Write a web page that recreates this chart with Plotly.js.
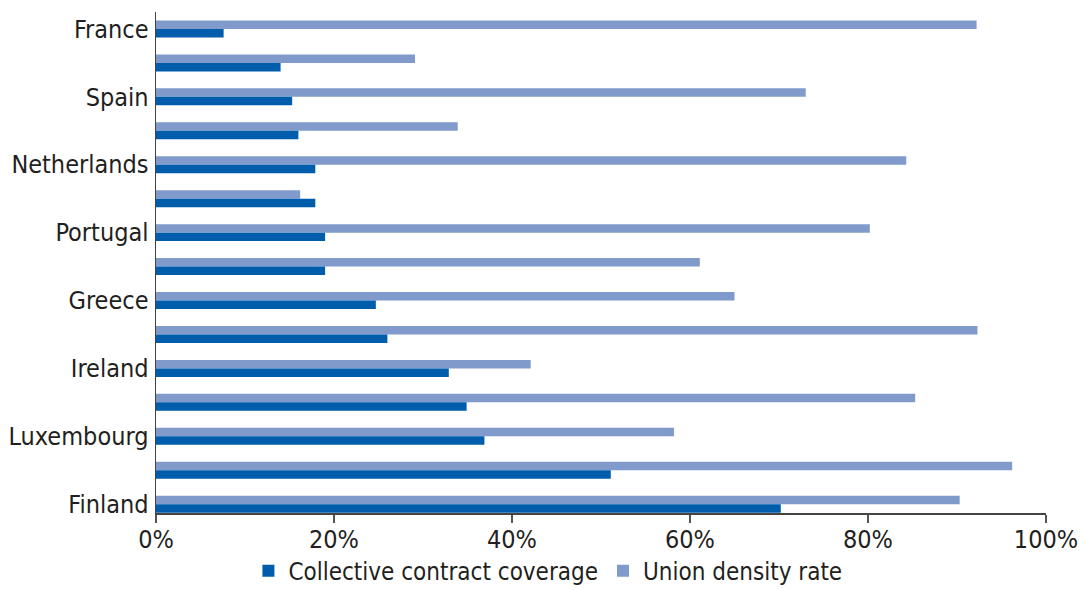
<!DOCTYPE html>
<html>
<head>
<meta charset="utf-8">
<script src="https://cdn.plot.ly/plotly-3.0.1.min.js"></script>
<style>html,body{margin:0;padding:0;background:#fff;}#chart{width:1085px;height:590px;}</style>
</head>
<body>
<div id="chart"></div>
<script>
// Categories, top to bottom (unlabelled rows carry hidden names)
var countries = ["France", "Poland", "Spain", "Hungary", "Netherlands", "Latvia", "Portugal", "Germany",
                 "Greece", "Slovenia", "Ireland", "Italy", "Luxembourg", "Belgium", "Finland"];
var shownLabels = ["France", "Spain", "Netherlands", "Portugal", "Greece", "Ireland", "Luxembourg", "Finland"];
var coverage = [7.6, 14, 15.3, 16, 17.9, 17.9, 19, 19, 24.7, 26, 32.9, 34.9, 36.9, 51.1, 70.2];
var density  = [92.2, 29.1, 73, 33.9, 84.3, 16.2, 80.2, 61.1, 65, 92.3, 42.1, 85.3, 58.2, 96.2, 90.3];
var xTicks = [0, 20, 40, 60, 80, 100];
var xTickText = ["0%", "20%", "40%", "60%", "80%", "100%"];

var font = "'DejaVu Sans Condensed', 'Liberation Sans Narrow', Arial, sans-serif";

var traces = [
  {type: "bar", orientation: "h", name: "Union density rate", y: countries, x: density,
   marker: {color: "#7f9acb"}, hoverinfo: "x+y"},
  {type: "bar", orientation: "h", name: "Collective contract coverage", y: countries, x: coverage,
   marker: {color: "#005dab"}, hoverinfo: "x+y"}
];

var layout = {
  width: 1085, height: 590,
  margin: {l: 156, r: 39, t: 12, b: 77},
  paper_bgcolor: "#fff", plot_bgcolor: "#fff",
  barmode: "group", bargap: 0.5, bargroupgap: 0,
  font: {family: font, size: 24, color: "#231f20"},
  xaxis: {range: [0, 100], tickmode: "array", tickvals: xTicks, ticktext: xTickText,
          showgrid: false, zeroline: false, showline: true, linecolor: "#444", linewidth: 1.5,
          ticks: "outside", ticklen: 8, tickwidth: 1.5, tickcolor: "#555", ticklabelstandoff: -5,
          tickfont: {family: font, size: 25, color: "#231f20"}, fixedrange: true},
  yaxis: {type: "category", range: [14.26, -0.5], tickmode: "array", tickvals: shownLabels, ticktext: shownLabels,
          showgrid: false, zeroline: false, showline: true, linecolor: "#444", linewidth: 1.5,
          ticks: "", ticklabelstandoff: 1,
          tickfont: {family: font, size: 25, color: "#231f20"}, fixedrange: true},
  showlegend: true,
  legend: {orientation: "h", traceorder: "reversed", xref: "container", yref: "container",
           x: 0.505, xanchor: "center", y: 0.032, yanchor: "middle",
           font: {family: font, size: 24, color: "#231f20"}, itemwidth: 30}
};

Plotly.newPlot("chart", traces, layout, {displayModeBar: false, staticPlot: true});
</script>
</body>
</html>
